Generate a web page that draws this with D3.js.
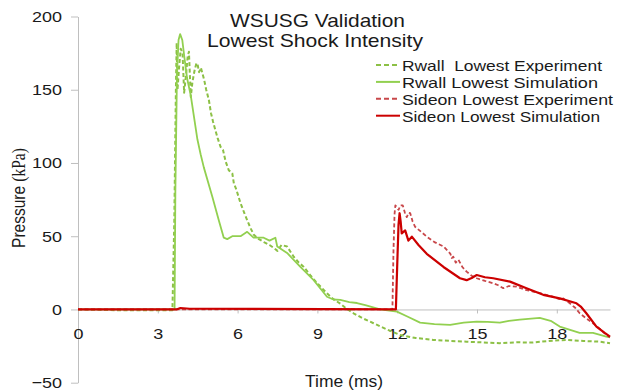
<!DOCTYPE html>
<html>
<head>
<meta charset="utf-8">
<script src="https://cdn.jsdelivr.net/npm/d3@7"></script>
<style>
  body { margin: 0; background: #fff; }
  text { font-family: "Liberation Sans", Arial, sans-serif; fill: #1a1a1a; }
</style>
</head>
<body>
<svg id="chart" width="620" height="392"></svg>
<script>
// axis ticks
const xTicks = [0, 3, 6, 9, 12, 15, 18];
const yTicks = [-50, 0, 50, 100, 150, 200];

// series, [time ms, pressure kPa]
const rwallExp = [[0,0],[1.5,-0.5],[3.55,-0.5],[3.62,60],[3.68,150],[3.71,182],[3.74,150],[3.8,165],[3.86,178],[3.93,175],[3.99,148],[4.06,160],[4.12,172],[4.17,176],[4.24,145],[4.3,155],[4.38,163],[4.45,168],[4.49,168],[4.55,162],[4.62,165],[4.74,157],[4.82,150],[4.92,143],[5.0,134],[5.08,128],[5.17,122],[5.25,117],[5.36,111],[5.45,109],[5.55,101],[5.67,95],[5.75,94],[5.8,93],[5.86,86],[5.95,82],[6.11,72.5],[6.25,66],[6.36,61],[6.5,55],[6.61,51],[6.8,48],[6.99,46],[7.2,44],[7.36,42],[7.5,40],[7.65,44],[7.86,43],[8.0,39],[8.11,36],[8.3,32],[8.49,29],[8.75,23],[8.99,18],[9.2,14],[9.36,11],[9.6,7],[9.86,4],[10.1,0.5],[10.36,-2.6],[10.7,-6],[11.11,-9.4],[11.6,-13.5],[12.1,-17.4],[12.7,-19.5],[13.36,-20.8],[14.0,-21.5],[14.61,-22],[15.2,-22.5],[15.86,-23],[16.5,-22.4],[17.1,-22.6],[17.7,-21.5],[18.36,-20.8],[19.0,-21.5],[19.61,-22],[20,-23]];
const rwallSim = [[0,0],[3.63,0],[3.66,80],[3.72,160],[3.78,184],[3.84,188],[3.92,184],[4.0,172],[4.1,158],[4.24,146],[4.49,116],[4.61,106],[4.73,97],[5.05,77],[5.29,61],[5.48,49],[5.61,48],[5.8,50],[6.11,50],[6.36,53],[6.6,49],[6.98,49],[7.2,47],[7.42,49],[7.49,43],[7.86,38.6],[8.36,29],[8.86,20],[9.36,8.7],[9.6,6.8],[9.86,6.5],[10.2,5],[10.49,4.4],[10.8,3],[11.36,0],[11.99,-1.5],[12.4,-5],[12.86,-9],[13.4,-10],[13.99,-10.5],[14.5,-9],[14.99,-8.3],[15.4,-8.5],[15.86,-9],[16.2,-7.8],[16.61,-7],[17.36,-5.8],[17.8,-8],[18.11,-11.7],[18.5,-14],[18.86,-16],[19.36,-16],[19.86,-18.5],[20,-19]];
const sideonExp = [[0,0],[11.82,0],[11.86,40],[11.9,65],[11.93,71],[11.98,70],[12.05,68],[12.12,71],[12.21,71],[12.29,66],[12.36,63],[12.43,66],[12.49,65.7],[12.58,60],[12.67,56.5],[12.9,53],[13.11,49.7],[13.4,46],[13.74,43],[13.9,40],[14.0,38],[14.05,35],[14.11,36],[14.2,32],[14.3,34],[14.45,29],[14.61,25.8],[14.8,23],[14.99,21.3],[15.3,19.5],[15.61,17.9],[15.8,16.5],[15.99,14.5],[16.2,16],[16.49,15.6],[16.8,13.5],[17.11,12.2],[17.5,10.5],[17.86,8.7],[18.1,7],[18.2,8],[18.49,4.2],[18.7,1],[18.86,-2.6],[19.1,-6],[19.36,-9.4],[19.6,-13],[19.86,-17.4],[20,-19]];
const sideonSim = [[0,0],[3.7,0],[3.85,1],[4.2,0.5],[11.95,0],[12.0,30],[12.05,58],[12.09,65.7],[12.13,60],[12.17,52],[12.3,54],[12.42,47],[12.55,49.7],[12.8,44],[13.11,38],[13.74,29],[14.36,21.3],[14.61,20],[14.8,21.5],[14.99,23.5],[15.3,22],[15.61,21.3],[16.24,19],[16.86,14.5],[17.49,10],[18.11,7.6],[18.74,4.2],[18.9,2],[19.11,-2.6],[19.49,-11.7],[19.8,-16],[20,-18.6]];

const seriesNames = ['Rwall  Lowest Experiment', 'Rwall Lowest Simulation', 'Sideon Lowest Experiment', 'Sideon Lowest Simulation'];

const series = [
  {name: seriesNames[0], data: rwallExp, color: '#8cc045', dash: '4,2.5', width: 2, legW: 200},
  {name: seriesNames[1], data: rwallSim, color: '#92d050', dash: null, width: 1.8, legW: 196},
  {name: seriesNames[2], data: sideonExp, color: '#c8474a', dash: '4,2.5', width: 1.8, legW: 211},
  {name: seriesNames[3], data: sideonSim, color: '#cc0000', dash: null, width: 2.2, legW: 198}
];

const svg = d3.select('#chart');
const mLeft = 78, mRight = 610, mTop = 16.5, mBottom = 382.7;

const x = d3.scaleLinear().domain([0, 20]).range([mLeft, mRight]);
const y = d3.scaleLinear().domain([-50, 200]).range([mBottom, mTop]);
const stretch = 'scale(1.16,1)';

// y axis
const yAxis = svg.append('g')
    .attr('transform', 'translate(' + mLeft + ',0)')
    .call(d3.axisLeft(y).tickValues(yTicks).tickSize(7).tickSizeOuter(0));
yAxis.select('.domain').attr('stroke', '#bfbfbf');
yAxis.selectAll('.tick line').attr('stroke', '#bfbfbf');
yAxis.selectAll('.tick text')
    .attr('x', -16 / 1.16)
    .attr('transform', stretch)
    .style('font-size', '15.5px')
    .style('font-family', '"Liberation Sans", Arial, sans-serif')
    .attr('fill', '#1a1a1a');

// x axis sits on the zero line
const xAxis = svg.append('g')
    .attr('transform', 'translate(0,' + y(0) + ')')
    .call(d3.axisBottom(x).tickValues(xTicks).tickSize(4).tickSizeOuter(0));
xAxis.select('.domain').attr('stroke', '#bfbfbf');
xAxis.selectAll('.tick line').attr('stroke', '#bfbfbf');
xAxis.selectAll('.tick text')
    .attr('y', 29.5)
    .attr('dy', 0)
    .attr('transform', stretch)
    .style('font-size', '15.5px')
    .style('font-family', '"Liberation Sans", Arial, sans-serif')
    .attr('fill', '#1a1a1a');

// lines
const line = d3.line().x(d => x(d[0])).y(d => y(d[1]));
svg.append('g').selectAll('path')
    .data(series)
    .join('path')
    .attr('d', d => line(d.data))
    .attr('fill', 'none')
    .attr('stroke', d => d.color)
    .attr('stroke-width', d => d.width)
    .attr('stroke-dasharray', d => d.dash)
    .attr('stroke-linejoin', 'round');

// title
svg.append('text').attr('x', 230).attr('y', 27)
    .attr('textLength', 175).attr('lengthAdjust', 'spacingAndGlyphs')
    .style('font-size', '18.5px').text('WSUSG Validation');
svg.append('text').attr('x', 207).attr('y', 47)
    .attr('textLength', 216).attr('lengthAdjust', 'spacingAndGlyphs')
    .style('font-size', '18.5px').text('Lowest Shock Intensity');

// legend
const leg = svg.append('g').selectAll('g')
    .data(series)
    .join('g')
    .attr('transform', (d, i) => 'translate(0,' + (65 + i * 16.9) + ')');
leg.append('line')
    .attr('x1', 376).attr('x2', 400)
    .attr('stroke', d => d.color)
    .attr('stroke-width', 2)
    .attr('stroke-dasharray', d => d.dash ? '5,3' : null);
leg.append('text')
    .attr('x', 402).attr('y', 6)
    .attr('textLength', d => d.legW).attr('lengthAdjust', 'spacingAndGlyphs')
    .style('white-space', 'pre')
    .style('font-size', '15px')
    .text(d => d.name);

// axis titles
svg.append('text')
    .attr('x', 305).attr('y', 387)
    .attr('textLength', 78).attr('lengthAdjust', 'spacingAndGlyphs')
    .style('font-size', '16px')
    .text('Time (ms)');

const yLab = svg.append('text')
    .attr('transform', 'translate(25,198) scale(1.16,1) rotate(-90)')
    .attr('text-anchor', 'middle')
    .style('font-size', '15.5px');
yLab.append('tspan').text('Pressure ');
yLab.append('tspan').style('font-family', '"Liberation Serif", "Times New Roman", serif').text('(kPa)');
</script>
</body>
</html>
